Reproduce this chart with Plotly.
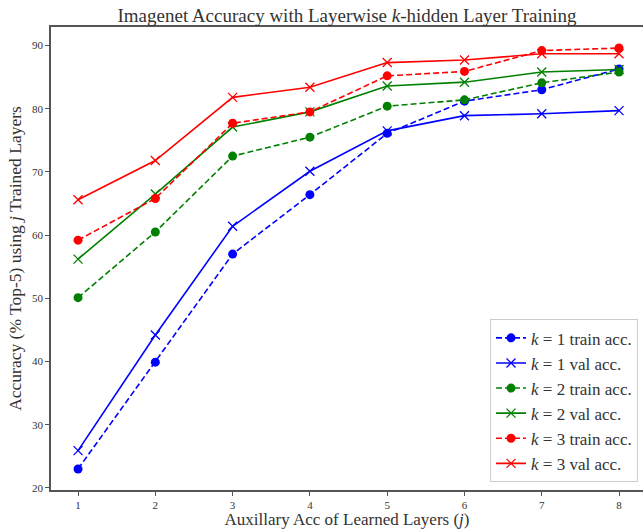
import plotly.graph_objects as go

layers = [1, 2, 3, 4, 5, 6, 7, 8]
k1_train = [23.0, 39.9, 57.0, 66.4, 76.1, 81.2, 83.0, 86.3]
k1_val = [25.9, 44.2, 61.4, 70.1, 76.5, 78.9, 79.2, 79.7]
k2_train = [50.1, 60.5, 72.5, 75.5, 80.4, 81.4, 84.1, 85.8]
k2_val = [56.2, 66.5, 77.1, 79.5, 83.6, 84.2, 85.8, 86.2]
k3_train = [59.2, 65.8, 77.7, 79.5, 85.2, 85.9, 89.2, 89.6]
k3_val = [65.6, 71.8, 81.8, 83.4, 87.3, 87.7, 88.7, 88.7]
y_ticks = [20, 30, 40, 50, 60, 70, 80, 90]

series = [
    ("<i>k</i> = 1 train acc.", k1_train, "#0000ff", "train"),
    ("<i>k</i> = 1 val acc.", k1_val, "#0000ff", "val"),
    ("<i>k</i> = 2 train acc.", k2_train, "#008000", "train"),
    ("<i>k</i> = 2 val acc.", k2_val, "#008000", "val"),
    ("<i>k</i> = 3 train acc.", k3_train, "#ff0000", "train"),
    ("<i>k</i> = 3 val acc.", k3_val, "#ff0000", "val"),
]

FONT = "Liberation Serif"
fig = go.Figure()
for name, vals, color, kind in series:
    if kind == "train":
        marker = dict(symbol="circle", size=9, color=color)
        line = dict(color=color, width=1.6, dash="6px,3px")
    else:
        marker = dict(symbol="x-thin-open", size=9, color=color, line=dict(color=color, width=1.3))
        line = dict(color=color, width=1.6)
    fig.add_trace(go.Scatter(x=layers, y=vals, mode="lines+markers", name=name,
                             line=line, marker=marker))

axis_common = dict(showline=True, linecolor="#555555", linewidth=1.5, ticks="outside",
                   ticklen=4, tickcolor="#555555", tickwidth=1, showgrid=False, zeroline=False,
                   automargin=False,
                   tickfont=dict(family=FONT, size=11, color="#333333"))

fig.update_layout(
    width=643, height=529,
    margin=dict(l=51, r=0, t=27, b=39),
    paper_bgcolor="white", plot_bgcolor="white",
    title=dict(text="Imagenet Accuracy with Layerwise <i>k</i>-hidden Layer Training",
               x=0.5, xanchor="center", xref="paper", y=1, yref="paper", yanchor="bottom",
               pad=dict(b=5), font=dict(family=FONT, size=19, color="#333333")),
    xaxis=dict(range=[0.65, 8.31], tickvals=layers, mirror=True,
               title=dict(text="Auxillary Acc of Learned Layers (<i>j</i>)", standoff=6,
                          font=dict(family=FONT, size=17, color="#333333")),
               **axis_common),
    yaxis=dict(range=[19.67, 92.93], tickvals=y_ticks,
               title=dict(text="Accuracy (% Top-5) using <i>j</i> Trained Layers", standoff=6,
                          font=dict(family=FONT, size=17.5, color="#333333")),
               **axis_common),
    legend=dict(x=0.9916, y=0.0166, xanchor="right", yanchor="bottom",
                bgcolor="white", bordercolor="#cccccc", borderwidth=1,
                font=dict(family=FONT, size=17, color="#333333"),
                tracegroupgap=0),
    showlegend=True,
)

fig.write_html("out.html", config={"displayModeBar": False},
               post_script="document.body.style.margin='0';document.body.style.padding='0';")
